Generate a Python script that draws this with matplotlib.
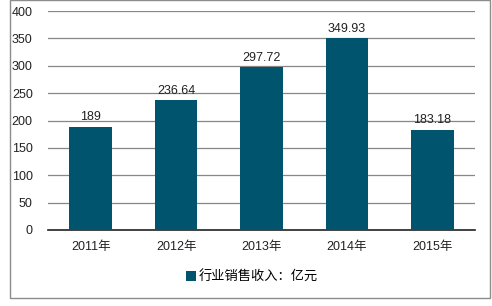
import matplotlib.pyplot as plt
from matplotlib.patches import Rectangle

plt.rcParams['font.family'] = ['Liberation Sans', 'Noto Sans CJK SC', 'DejaVu Sans']

# data
years = ['2011年', '2012年', '2013年', '2014年', '2015年']
revenue = [189, 236.64, 297.72, 349.93, 183.18]
value_labels = ['189', '236.64', '297.72', '349.93', '183.18']
series_name = '行业销售收入：亿元'

bar_color = '#01546e'

fig = plt.figure(figsize=(4.92, 3.06), dpi=100)
ax = fig.add_axes([48 / 492, 1 - 230 / 306, 427 / 492, 219 / 306])

x = range(len(years))
bars = ax.bar(x, revenue, width=0.5, color=bar_color, label=series_name, zorder=3)
for xi, v, lab in zip(x, revenue, value_labels):
    ax.text(xi, v + 6, lab, ha='center', va='bottom', fontsize=9, color='#222222')

ax.set_xlim(-0.5, len(years) - 0.5)
ax.set_ylim(0, 400)
ax.set_yticks(range(0, 401, 50))
ax.set_xticks(list(x))
ax.set_xticklabels(years)
ax.tick_params(axis='both', length=0, labelsize=9, colors='#222222')
ax.tick_params(axis='y', pad=11)
ax.tick_params(axis='x', pad=8)
ax.grid(axis='y', color='#878787', linewidth=0.9, zorder=0)
for side in ['top', 'right', 'left']:
    ax.spines[side].set_visible(False)
ax.spines['bottom'].set_color('#222222')
ax.spines['bottom'].set_linewidth(1.2)

leg = fig.legend(loc='center', bbox_to_anchor=(252 / 492, 1 - 277 / 306),
                 frameon=False, fontsize=9.5, handlelength=0.7, handleheight=0.7,
                 handletextpad=0.2)

# outer frame
fig.patches.append(Rectangle((9.5 / 492, 1 - 297.5 / 306), 480 / 492, 297.5 / 306,
                             transform=fig.transFigure, fill=False,
                             edgecolor='#8c8c8c', linewidth=1.0))

fig.savefig('out.png', dpi=100)
